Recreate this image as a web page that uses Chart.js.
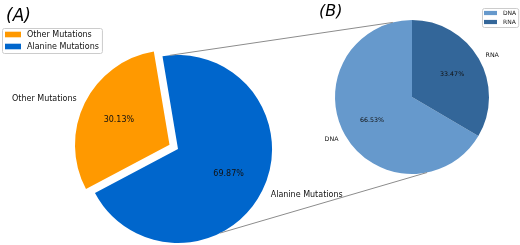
<!DOCTYPE html>
<html lang="en">
<head>
<meta charset="utf-8" />
<title>Mutation pies</title>
<script src="https://cdn.jsdelivr.net/npm/chart.js@4.4.0/dist/chart.umd.min.js"></script>
<style>
  html, body { margin: 0; padding: 0; background: #fff; }
  #wrap { position: relative; width: 520px; height: 245px; overflow: hidden; }
  #wrap canvas { position: absolute; left: 0; top: 0; }
</style>
</head>
<body>
<div id="wrap">
  <canvas id="pieA" width="520" height="245"></canvas>
  <canvas id="pieB" width="520" height="245"></canvas>
</div>
<script>
// panel A: all mutations
const mutationLabels = ["Other Mutations", "Alanine Mutations"];
const mutationShares = [30.13, 69.87];
const mutationColors = ["#ff9900", "#0066cc"];
const mutationExplode = [38, 0];

// panel B: alanine mutations split by target
const targetLabels = ["DNA", "RNA"];
const targetShares = [66.53, 33.47];
const targetColors = ["#6699cc", "#336699"];

const FONT = "'DejaVu Sans', sans-serif";

// slice labels at 0.6r (percent) and 1.1r (name), like matplotlib
const pieText = {
    id: "pieText",
    afterDatasetsDraw(chart, args, opts) {
        const ctx = chart.ctx;
        const ds = chart.data.datasets[0];
        const total = ds.data.reduce((a, b) => a + b, 0);
        ctx.save();
        ctx.fillStyle = "#111";
        ctx.textBaseline = "middle";
        chart.getDatasetMeta(0).data.forEach((arc, i) => {
            const p = arc.getProps(["x", "y", "startAngle", "endAngle", "outerRadius"], true);
            const mid = (p.startAngle + p.endAngle) / 2;
            const shift = (ds.offset ? ds.offset[i] : 0) / 4;
            const cx = p.x + Math.cos(mid) * shift;
            const cy = p.y + Math.sin(mid) * shift;
            const r = p.outerRadius;
            ctx.font = opts.size + "px " + FONT;
            ctx.textAlign = "center";
            ctx.fillText((ds.data[i] / total * 100).toFixed(2) + "%",
                cx + Math.cos(mid) * r * 0.6, cy + Math.sin(mid) * r * 0.6);
            ctx.textAlign = Math.cos(mid) < 0 ? "right" : "left";
            ctx.fillText(chart.data.labels[i],
                cx + Math.cos(mid) * r * 1.1, cy + Math.sin(mid) * r * 1.1);
        });
        ctx.restore();
    }
};

// framed legend box + panel letter
const boxLegend = {
    id: "boxLegend",
    afterDraw(chart, args, opts) {
        const ctx = chart.ctx;
        const ds = chart.data.datasets[0];
        ctx.save();
        ctx.font = opts.size + "px " + FONT;
        let tw = 0;
        chart.data.labels.forEach((l) => { tw = Math.max(tw, ctx.measureText(l).width); });
        const w = opts.pad + opts.patchW + opts.gap + tw + opts.pad;
        const h = chart.data.labels.length * opts.row + 1;
        ctx.fillStyle = "rgba(255,255,255,0.8)";
        ctx.strokeStyle = "#cccccc";
        ctx.lineWidth = 1;
        ctx.beginPath();
        ctx.roundRect(opts.x + 0.5, opts.y + 0.5, w, h, 2);
        ctx.fill();
        ctx.stroke();
        ctx.textBaseline = "middle";
        ctx.textAlign = "left";
        chart.data.labels.forEach((l, i) => {
            const yc = opts.y + 0.5 + opts.row / 2 + i * opts.row;
            ctx.fillStyle = ds.backgroundColor[i];
            ctx.fillRect(opts.x + opts.pad, yc - opts.patchH / 2, opts.patchW, opts.patchH);
            ctx.fillStyle = "#111";
            ctx.fillText(l, opts.x + opts.pad + opts.patchW + opts.gap, yc);
        });
        ctx.font = "italic " + opts.titleSize + "px " + FONT;
        ctx.fillStyle = "#000";
        ctx.fillText(opts.title, opts.titleX, opts.titleY);
        ctx.restore();
    }
};

// zoom lines from pie A to pie B
let chartA = null;
const zoomLines = {
    id: "zoomLines",
    afterDraw(chart, args, opts) {
        if (!chartA) return;
        const a = chartA.getDatasetMeta(0).data[0];
        const b = chart.getDatasetMeta(0).data[0];
        const pt = (arc, deg) => {
            const t = deg * Math.PI / 180;
            return [arc.x + arc.outerRadius * Math.sin(t), arc.y - arc.outerRadius * Math.cos(t)];
        };
        const ctx = chart.ctx;
        ctx.save();
        ctx.strokeStyle = "#8c8c8c";
        ctx.lineWidth = 1;
        opts.pairs.forEach(([da, db]) => {
            const p1 = pt(a, da), p2 = pt(b, db);
            ctx.beginPath();
            ctx.moveTo(p1[0], p1[1]);
            ctx.lineTo(p2[0], p2[1]);
            ctx.stroke();
        });
        ctx.restore();
    }
};

const baseOptions = {
    responsive: false,
    animation: false,
    events: [],
    plugins: { legend: { display: false }, tooltip: { enabled: false } },
};

chartA = new Chart(document.getElementById("pieA"), {
    type: "pie",
    data: {
        labels: mutationLabels,
        datasets: [{
            data: mutationShares,
            backgroundColor: mutationColors,
            offset: mutationExplode,
            borderWidth: 0,
            clip: false,
        }],
    },
    options: {
        ...baseOptions,
        rotation: -9.5 - mutationShares[0] * 3.6,
        radius: 94,
        layout: { padding: { left: 100, right: 264, top: 109, bottom: 56 } },
        plugins: {
            ...baseOptions.plugins,
            pieText: { size: 8 },
            boxLegend: {
                x: 2, y: 28, size: 8, pad: 3, patchW: 16, patchH: 5.6, gap: 6, row: 12,
                title: "(A)", titleX: 6, titleY: 17, titleSize: 17,
            },
        },
    },
    plugins: [pieText, boxLegend],
});

new Chart(document.getElementById("pieB"), {
    type: "pie",
    data: {
        labels: targetLabels,
        datasets: [{
            data: targetShares,
            backgroundColor: targetColors,
            borderWidth: 0,
            clip: false,
        }],
    },
    options: {
        ...baseOptions,
        rotation: targetShares[1] * 3.6,
        radius: 77,
        layout: { padding: { left: 362, right: 58, top: 47, bottom: 98 } },
        plugins: {
            ...baseOptions.plugins,
            pieText: { size: 6.3 },
            boxLegend: {
                x: 482, y: 8, size: 6, pad: 2, patchW: 13, patchH: 4.2, gap: 6, row: 9,
                title: "(B)", titleX: 319, titleY: 12, titleSize: 16,
            },
            zoomLines: { pairs: [[-5, -14.4], [153.4, 168.7]] },
        },
    },
    plugins: [pieText, boxLegend, zoomLines],
});
</script>
</body>
</html>
